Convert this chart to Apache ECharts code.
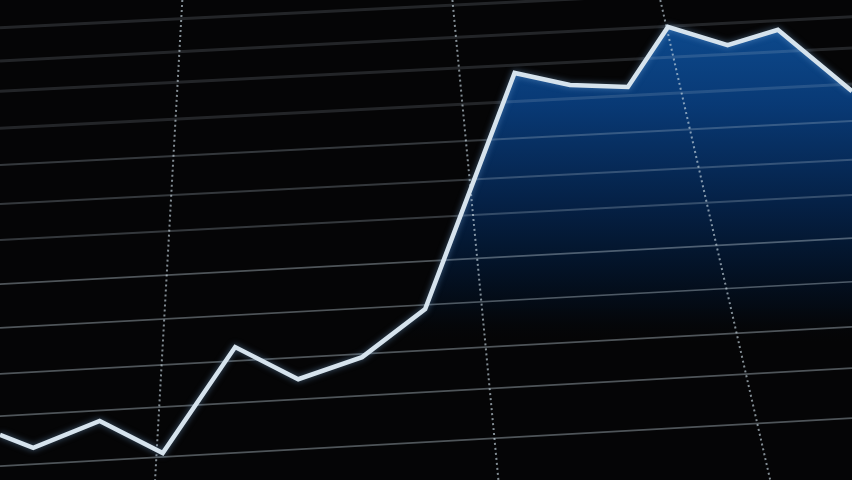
<!DOCTYPE html>
<html>
<head>
<meta charset="utf-8">
<script src="https://cdn.jsdelivr.net/npm/echarts@6/dist/echarts.min.js"></script>
<style>
html,body{margin:0;padding:0;background:#050506;}
#chart{width:852px;height:480px;}
</style>
</head>
<body>
<div id="chart"></div>
<script>
// Main series: x position (0-100 scale) and value (0-100 scale)
var pointX = [0, 3.9, 11.7, 19.1, 27.6, 35.0, 42.5, 49.9, 60.4, 66.9, 73.7, 78.4, 85.4, 91.3, 100];
var pointY = [9.4, 6.7, 12.3, 5.6, 27.7, 21.0, 25.6, 35.6, 84.8, 82.3, 81.9, 94.4, 90.6, 93.8, 81.0];

// Perspective grid: horizontal lines (value at left edge, value at right edge)
var hLineLeft  = [94.2, 87.3, 81.0, 73.3, 65.6, 57.5, 50.0, 40.8, 31.7, 22.1, 13.3, 2.9];
var hLineRight = [103.1, 96.5, 90.0, 82.5, 74.8, 66.7, 59.4, 50.4, 41.3, 31.9, 23.3, 12.9];
// Vertical lines (x at top edge, x at bottom edge)
var vLineTop    = [21.4, 53.1, 77.5];
var vLineBottom = [18.2, 58.5, 90.4];

var X_MIN = 0, X_MAX = 100, Y_MIN = 0, Y_MAX = 100;

var mainData = pointX.map(function (x, i) { return [x, pointY[i]]; });

var series = [];

// area fill
series.push({
  type: 'line',
  data: mainData,
  symbol: 'none',
  silent: true,
  z: 1,
  lineStyle: { width: 0, opacity: 0 },
  areaStyle: {
    origin: 'start',
    color: {
      type: 'linear', x: 0, y: 0, x2: 0, y2: 1,
      colorStops: [
        { offset: 0, color: 'rgba(16,102,198,1)' },
        { offset: 0.17, color: 'rgba(10,80,165,1)' },
        { offset: 0.38, color: 'rgba(5,46,100,1)' },
        { offset: 0.52, color: 'rgba(3,26,56,1)' },
        { offset: 0.62, color: 'rgba(3,12,24,1)' },
        { offset: 0.7, color: 'rgba(5,5,6,0)' },
        { offset: 1, color: 'rgba(5,5,6,0)' }
      ]
    }
  }
});

// horizontal grid lines
hLineLeft.forEach(function (yl, i) {
  var op = i < 4 ? 0.16 : (i < 7 ? 0.26 : 0.4);
  series.push({
    type: 'line',
    data: [[X_MIN, yl], [X_MAX, hLineRight[i]]],
    symbol: 'none',
    silent: true,
    z: 2,
    lineStyle: { color: 'rgba(190,205,215,' + op + ')', width: i < 4 ? 3 : (i < 7 ? 2 : 1.6) }
  });
});

// vertical dotted lines
vLineTop.forEach(function (xt, i) {
  series.push({
    type: 'line',
    data: [[xt, Y_MAX], [vLineBottom[i], Y_MIN]],
    symbol: 'none',
    silent: true,
    z: 2,
    lineStyle: { color: 'rgba(200,215,225,0.65)', width: 2, type: [2, 3] }
  });
});

// main line
series.push({
  type: 'line',
  data: mainData,
  symbol: 'none',
  silent: true,
  z: 3,
  lineStyle: {
    color: '#d6e3ed',
    width: 4.5,
    shadowBlur: 6,
    shadowColor: 'rgba(130,180,230,0.5)',
    join: 'miter'
  }
});

var chart = echarts.init(document.getElementById('chart'), null, { renderer: 'canvas' });
chart.setOption({
  backgroundColor: '#050506',
  animation: false,
  grid: { left: 0, right: 0, top: 0, bottom: 0 },
  xAxis: { type: 'value', min: X_MIN, max: X_MAX, show: false },
  yAxis: { type: 'value', min: Y_MIN, max: Y_MAX, show: false },
  series: series
});
</script>
</body>
</html>
